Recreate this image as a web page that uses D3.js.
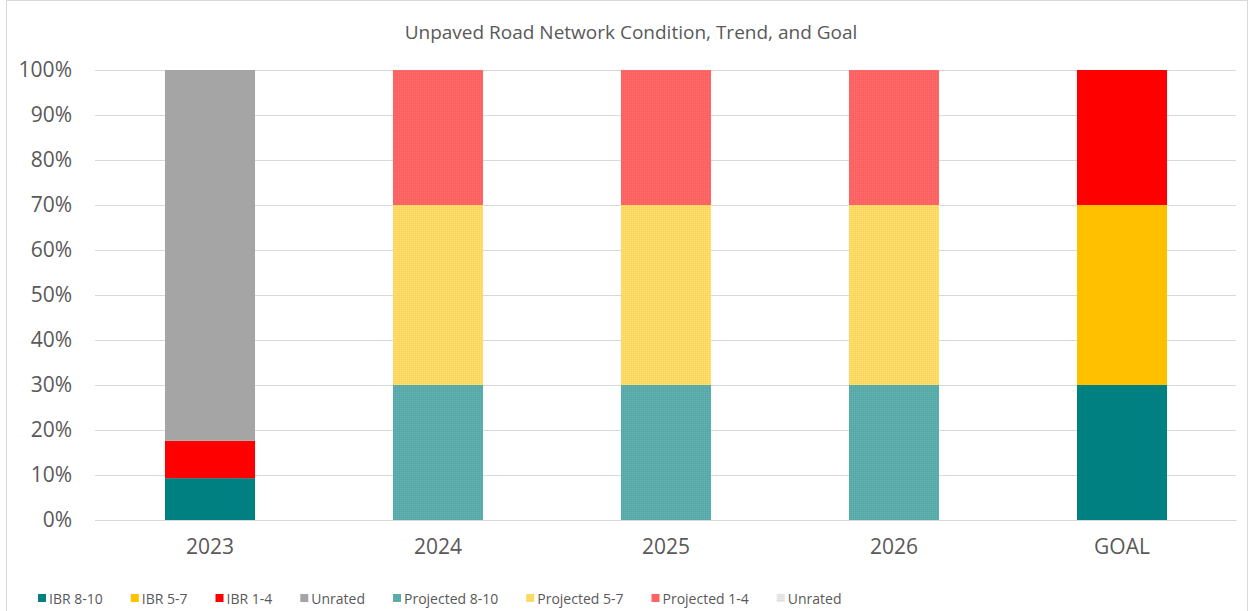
<!DOCTYPE html>
<html><head><meta charset="utf-8">
<script src="https://cdn.jsdelivr.net/npm/d3@7"></script>
<style>body{margin:0;background:#fff;font-family:"Open Sans",sans-serif;}</style>
</head><body>
<svg id="chart" width="1249" height="611"></svg>
<script>
const categories = ["2023","2024","2025","2026","GOAL"];
const seriesNames = ["IBR 8-10","IBR 5-7","IBR 1-4","Unrated","Projected 8-10","Projected 5-7","Projected 1-4","Unrated "];
const ibr810     = [9.3, 0, 0, 0, 30];
const ibr57      = [0, 0, 0, 0, 40];
const ibr14      = [8.3, 0, 0, 0, 30];
const unrated    = [82.4, 0, 0, 0, 0];
const proj810    = [0, 30, 30, 30, 0];
const proj57     = [0, 40, 40, 40, 0];
const proj14     = [0, 30, 30, 30, 0];
const projUnrated= [0, 0, 0, 0, 0];
const yTicks = [0,10,20,30,40,50,60,70,80,90,100];
const title = "Unpaved Road Network Condition, Trend, and Goal";

const seriesValues = [ibr810, ibr57, ibr14, unrated, proj810, proj57, proj14, projUnrated];
const colors = ["#008080","#FFC000","#FF0000","#A5A5A5","#5BABAB","#FFD966","#FF6464","#E3E3E3"];
const patterned = [false,false,false,false,true,true,true,true];
const FONT = "'Open Sans',sans-serif";
const TEXT = "#595959";

const svg = d3.select("#chart");
const W = 1249, H = 611;
svg.append("rect").attr("x",6.5).attr("y",0.5).attr("width",W-8).attr("height",H+2)
  .attr("fill","#fff").attr("stroke","#d9d9d9");

const defs = svg.append("defs");
colors.forEach((c,i)=>{
  if(!patterned[i]) return;
  const p = defs.append("pattern").attr("id","pat"+i).attr("width",2).attr("height",2)
    .attr("patternUnits","userSpaceOnUse");
  p.append("rect").attr("width",2).attr("height",2).attr("fill",c);
  p.append("rect").attr("width",1).attr("height",1).attr("fill",d3.color(c).brighter(0.15));
  p.append("rect").attr("x",1).attr("y",1).attr("width",1).attr("height",1).attr("fill",d3.color(c).darker(0.1));
});
const fillFor = i => patterned[i] ? `url(#pat${i})` : colors[i];

const x = d3.scaleBand().domain(categories).range([96,1236]).paddingInner(0.605).paddingOuter(0.3025);
const y = d3.scaleLinear().domain([0,100]).range([520,70]);

// gridlines
svg.append("g").selectAll("line").data(yTicks).join("line")
  .attr("x1",95).attr("x2",1236).attr("y1",d=>y(d)+0.5).attr("y2",d=>y(d)+0.5)
  .attr("stroke","#d9d9d9").attr("stroke-width",1);

// y axis
const yAxis = svg.append("g").attr("transform","translate(95,0)")
  .call(d3.axisLeft(y).tickValues(yTicks).tickFormat(d=>d+"%").tickSize(0).tickPadding(23));
yAxis.select(".domain").remove();
yAxis.selectAll("text").attr("fill",TEXT).style("font-size","21px").style("font-family",FONT);

// x axis
const xAxis = svg.append("g").attr("transform","translate(0,520)")
  .call(d3.axisBottom(x).tickSize(0).tickPadding(19));
xAxis.select(".domain").attr("stroke","#d9d9d9");
xAxis.selectAll("text").attr("fill",TEXT).style("font-size","21px").style("font-family",FONT);

// stacked data
const table = categories.map((c,ci)=>{
  const o = {cat:c};
  seriesNames.forEach((s,si)=>o[s]=seriesValues[si][ci]);
  return o;
});
const stack = d3.stack().keys(seriesNames)(table);
svg.append("g").selectAll("g").data(stack).join("g")
  .attr("fill",(d,i)=>fillFor(i))
  .selectAll("rect").data(d=>d.filter(p=>p[1]-p[0]>0)).join("rect")
  .attr("x",d=>x(d.data.cat)).attr("width",x.bandwidth())
  .attr("y",d=>y(d[1])).attr("height",d=>y(d[0])-y(d[1]));

// title
svg.append("text").attr("x",631).attr("y",39).attr("text-anchor","middle")
  .attr("fill",TEXT).style("font-size","19px").style("font-family",FONT)
  .text(title);

// legend
const lg = svg.append("g").attr("transform","translate(38,599)");
let lx = 0;
seriesNames.forEach((s,i)=>{
  const g = lg.append("g").attr("transform",`translate(${lx},0)`);
  g.append("rect").attr("x",0).attr("y",-5).attr("width",8).attr("height",8).attr("fill",fillFor(i));
  const t = g.append("text").attr("x",11).attr("y",5).attr("fill",TEXT)
    .style("font-size","14px").style("font-family",FONT).text(s.trim());
  const w = t.node().getComputedTextLength();
  lx += 11 + w + 28;
});
</script>
</body></html>
